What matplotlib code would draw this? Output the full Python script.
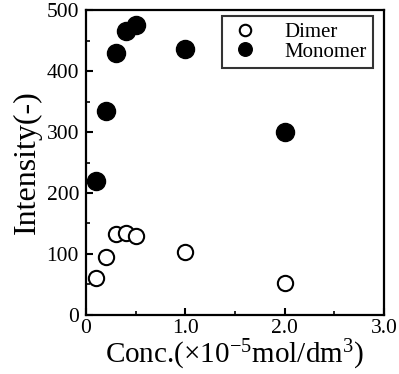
import numpy as np
import matplotlib.pyplot as plt
from matplotlib.ticker import MultipleLocator

# concentration (x 10^-5 mol/dm3) and intensity values
conc_dimer = [0.1, 0.2, 0.3, 0.4, 0.5, 1.0, 2.0]
int_dimer = [60, 95, 133, 134, 130, 103, 52]
conc_monomer = [0.1, 0.2, 0.3, 0.4, 0.5, 1.0, 2.0]
int_monomer = [220, 335, 430, 465, 475, 437, 300]

plt.rcParams['font.family'] = ['Liberation Serif', 'DejaVu Serif']
plt.rcParams['mathtext.fontset'] = 'custom'
plt.rcParams['mathtext.rm'] = 'Liberation Serif'
plt.rcParams['mathtext.it'] = 'Liberation Serif:italic'

fig = plt.figure(figsize=(3.99, 3.74), dpi=100)
ax = fig.add_axes([0.2155, 0.158, 0.7465, 0.815])

ax.plot(conc_dimer, int_dimer, 'o', mfc='white', mec='black', mew=1.5, ms=11, label='Dimer')
ax.plot(conc_monomer, int_monomer, 'o', mfc='black', mec='black', ms=13, label='Monomer')

ax.set_xlim(0, 3.0)
ax.set_ylim(0, 500)
ax.set_xticks([0, 1.0, 2.0, 3.0])
ax.set_xticklabels(['0', '1.0', '2.0', '3.0'])
ax.set_yticks([0, 100, 200, 300, 400, 500])
ax.set_yticklabels(['0', '100', '200', '300', '400', '500'])
ax.xaxis.set_minor_locator(MultipleLocator(0.5))
ax.yaxis.set_minor_locator(MultipleLocator(50))
ax.tick_params(which='both', direction='in', top=False, right=False, labelsize=15.5)
ax.tick_params(which='major', length=5, width=1.5)
ax.tick_params(which='minor', length=3, width=1.2)
ax.tick_params(axis='x', pad=3)
ax.tick_params(axis='y', pad=5)
for s in ax.spines.values():
    s.set_linewidth(1.6)

ax.set_xlabel('Conc.(×10$^{\\mathrm{-5}}$mol/dm$^{\\mathrm{3}}$)', fontsize=21, labelpad=0)
ax.set_ylabel('Intensity(-)', fontsize=23, labelpad=3)

leg = ax.legend(loc='upper right', frameon=True, fancybox=False, edgecolor='black',
                fontsize=15, handletextpad=1.1, borderpad=0.3, labelspacing=0.0,
                handlelength=1.6, markerscale=0.75, borderaxespad=0,
                bbox_to_anchor=(0.963, 0.98))
leg.get_frame().set_linewidth(1.5)

plt.savefig('out.png', dpi=100)
